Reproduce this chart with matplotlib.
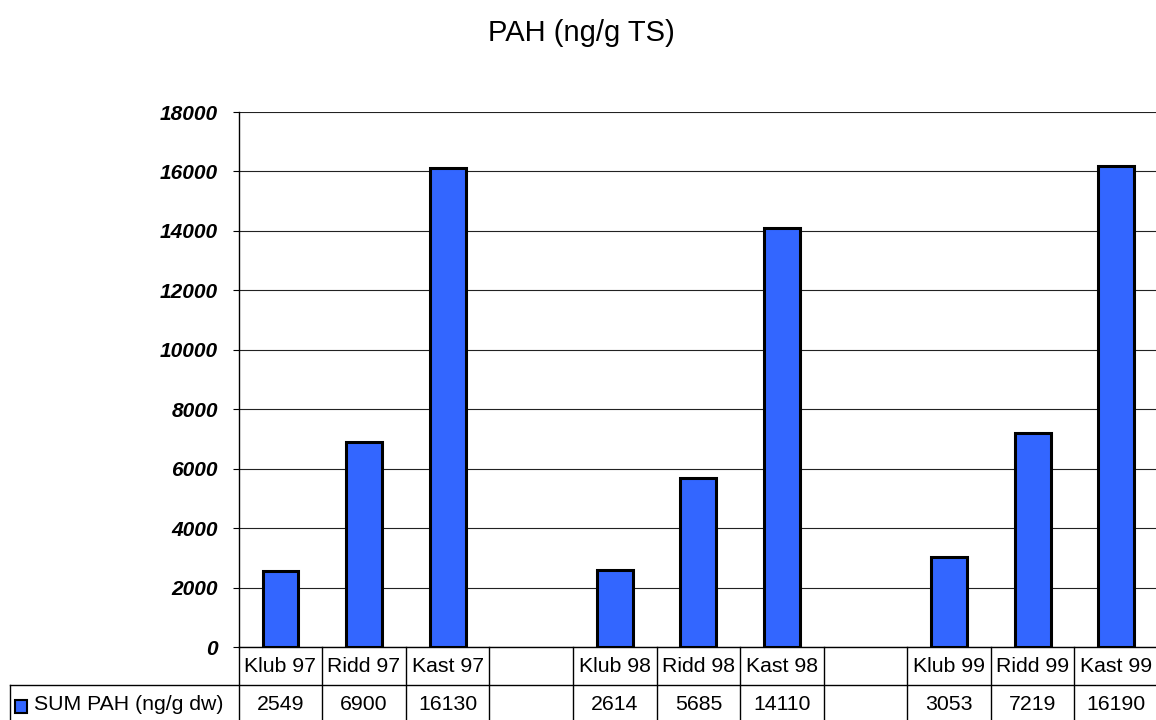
import numpy as np
import matplotlib.pyplot as plt
from matplotlib.transforms import blended_transform_factory
from matplotlib.patches import Rectangle
from matplotlib.lines import Line2D

plt.rcParams['font.family'] = ['Liberation Sans', 'DejaVu Sans']

categories = ["Klub 97", "Ridd 97", "Kast 97", "",
              "Klub 98", "Ridd 98", "Kast 98", "",
              "Klub 99", "Ridd 99", "Kast 99"]
sum_pah = [2549, 6900, 16130, None,
           2614, 5685, 14110, None,
           3053, 7219, 16190]
series_label = "SUM PAH (ng/g dw)"
title = "PAH (ng/g TS)"
yticks = np.arange(0, 18001, 2000)

W, H = 1156, 720
bar_color = "#3366ff"

fig = plt.figure(figsize=(W / 100, H / 100), dpi=100)
ax = fig.add_axes([238.7 / W, 1 - 647.3 / H, 919.3 / W, 535.3 / H])

# bars only where there is a value (gaps between years stay empty)
idx = [i for i, v in enumerate(sum_pah) if v is not None]
ax.bar(idx, [sum_pah[i] for i in idx], width=0.43, color=bar_color,
       edgecolor="black", linewidth=2.2, zorder=3)

ax.set_xlim(-0.5, len(categories) - 0.5)
ax.set_ylim(0, 18000)
ax.set_yticks(yticks)
ax.set_xticks([])
ax.yaxis.grid(True, color="#222222", linewidth=0.8)
ax.set_axisbelow(True)
for s in ["top", "right"]:
    ax.spines[s].set_visible(False)
for s in ["left", "bottom"]:
    ax.spines[s].set_color("black")
    ax.spines[s].set_linewidth(1)
ax.tick_params(axis="y", direction="out", length=4.3, width=0.8, pad=10.8,
               labelsize=15)
for lab in ax.get_yticklabels():
    lab.set_fontweight("bold")
    lab.set_fontstyle("italic")

fig.text(581 / W, 1 - 33 / H, title, ha="center", va="center", fontsize=21)

# data table under the axis
def fy(py):
    return 1 - py / H

trans = blended_transform_factory(ax.transData, fig.transFigure)
row_top, row_mid, row_bot = 647.3, 685, 725
for k in range(len(categories) + 1):
    fig.add_artist(Line2D([k - 0.5, k - 0.5], [fy(row_top), fy(row_bot)],
                          transform=trans, color="black", linewidth=1))
fig.add_artist(Line2D([10 / W, 1], [fy(row_mid), fy(row_mid)],
                      transform=fig.transFigure, color="black", linewidth=1))
fig.add_artist(Line2D([10 / W, 10 / W], [fy(row_mid), fy(row_bot)],
                      transform=fig.transFigure, color="black", linewidth=1))

for i, (cat, v) in enumerate(zip(categories, sum_pah)):
    fig.text(i, fy(666), cat, transform=trans, ha="center", va="center",
             fontsize=15.3)
    if v is not None:
        fig.text(i, fy(704), str(v), transform=trans, ha="center",
                 va="center", fontsize=15.3)

fig.add_artist(Rectangle((15 / W, fy(713)), 12 / W, 13 / H,
                         transform=fig.transFigure, facecolor=bar_color,
                         edgecolor="black", linewidth=1.5))
fig.text(34 / W, fy(704), series_label, ha="left", va="center", fontsize=15.3)

fig.savefig("out.png", dpi=100)
